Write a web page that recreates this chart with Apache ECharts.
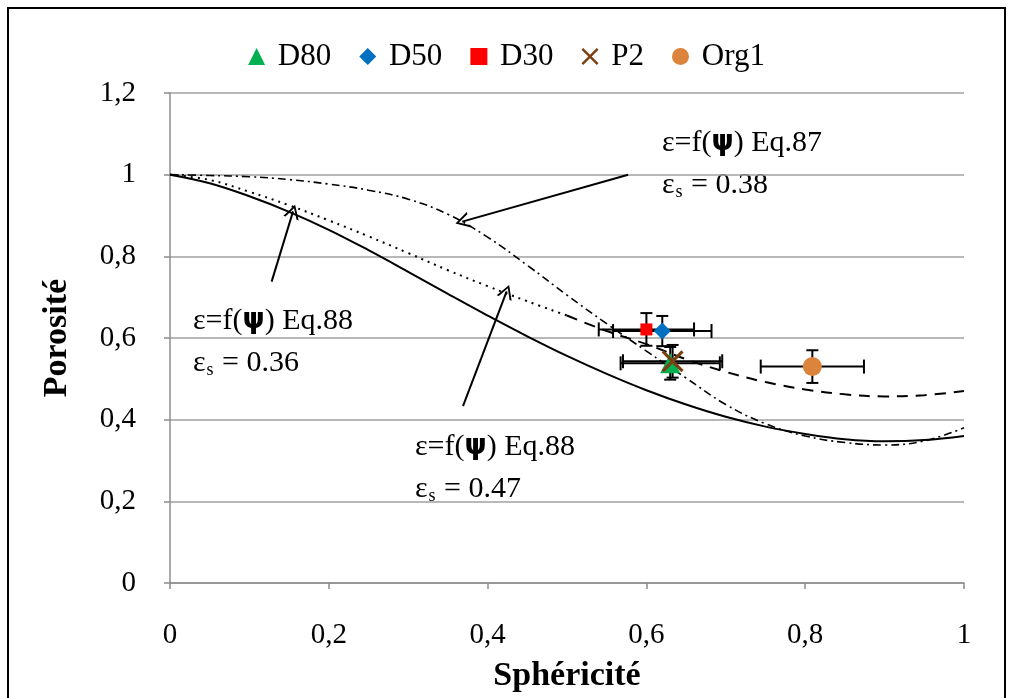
<!DOCTYPE html>
<html>
<head>
<meta charset="utf-8">
<script src="https://cdn.jsdelivr.net/npm/echarts@6/dist/echarts.min.js"></script>
<style>html,body{margin:0;padding:0;background:#fff}#c{width:1013px;height:698px}</style>
</head>
<body>
<div id="c"></div>
<script>
// ---- data ----
const psi = [0,0.05,0.1,0.15,0.2,0.25,0.3,0.35,0.4,0.45,0.5,0.55,0.6,0.65,0.7,0.75,0.8,0.85,0.9,0.95,1];
const eq88_036 = [1,0.979,0.947,0.909,0.865,0.815,0.762,0.708,0.655,0.604,0.556,0.512,0.472,0.437,0.407,0.383,0.365,0.352,0.347,0.35,0.36];
const eq88_047 = [1,0.987,0.958,0.925,0.888,0.849,0.808,0.766,0.727,0.69,0.655,0.617,0.585,0.548,0.517,0.492,0.474,0.462,0.457,0.46,0.47];
const eq87_038 = [1,0.998,0.995,0.988,0.977,0.962,0.94,0.903,0.847,0.778,0.705,0.635,0.568,0.502,0.437,0.39,0.36,0.344,0.338,0.348,0.38];

const pointNames = ['D80','D50','D30','P2','Org1'];
const pointX = [0.630,0.620,0.600,0.633,0.809];
const pointY = [0.538,0.617,0.621,0.543,0.530];
const errX = [0.0625,0.062,0.06,0.0625,0.065];
const errY = [0.04,0.037,0.04,0.04,0.04];

const xTicks = ['0','0,2','0,4','0,6','0,8','1'];
const yTicks = ['0','0,2','0,4','0,6','0,8','1','1,2'];

// arrows: [x0,y0,x1(tip),y1(tip)]
const arrows = [
  [0.577,1.0,0.368,0.885],
  [0.128,0.738,0.155,0.910],
  [0.369,0.433,0.424,0.714]
];
// ---- styles ----
const SERIF = 'Liberation Serif';
const colors = ['#00B050','#0070C0','#FF0000','#7B3F12','#DD843C'];
const XPATH = 'path://M0,1 L1,0 L5,4 L9,0 L10,1 L6,5 L10,9 L9,10 L5,6 L1,10 L0,9 L4,5 Z';
const symbols = ['triangle','diamond','rect',XPATH,'circle'];
const sizes = [20,17,12,22,19];
const VHEAD = 'path://M5,0 L10,10 L8.6,10 L5,2.6 L1.4,10 L0,10 Z';

const chart = echarts.init(document.getElementById('c'), null, {renderer:'canvas'});

function curve(arr){ return psi.map((x,i)=>[x,arr[i]]); }
const split = 10;

const series = [];
series.push({type:'line', name:'s036', data:curve(eq88_036), smooth:0.4, symbol:'none',
  lineStyle:{color:'#000',width:2,type:'solid'}, z:1,
  markLine:{silent:true, symbol:['none',VHEAD], symbolSize:[16,14],
    lineStyle:{color:'#000',width:2,type:'solid'}, label:{show:false},
    data: arrows.map(a=>[{coord:[a[0],a[1]]},{coord:[a[2],a[3]]}])}});
series.push({type:'line', name:'s047a', data:curve(eq88_047).slice(0,split+1), smooth:0.4, symbol:'none',
  lineStyle:{color:'#000',width:2,type:[2,5]}, z:1});
series.push({type:'line', name:'s047b', data:curve(eq88_047).slice(split), smooth:0.4, symbol:'none',
  lineStyle:{color:'#000',width:2,type:[11,8]}, z:1});
series.push({type:'line', name:'s038', data:curve(eq87_038), smooth:0.4, symbol:'none',
  lineStyle:{color:'#000',width:1.6,type:[8,4,2,4]}, z:1});

series.push({type:'custom', name:'err', z:2,
  data: pointNames.map((n,i)=>[pointX[i],pointY[i],errX[i],errY[i]]),
  encode:{x:0,y:1},
  renderItem(params, api){
    const x=api.value(0), y=api.value(1), ex=api.value(2), ey=api.value(3);
    const l=api.coord([x-ex,y]), r=api.coord([x+ex,y]), t=api.coord([x,y+ey]), b=api.coord([x,y-ey]);
    const c=7, st={stroke:'#000',lineWidth:2};
    return {type:'group', children:[
      {type:'line',shape:{x1:l[0],y1:l[1],x2:r[0],y2:r[1]},style:st},
      {type:'line',shape:{x1:t[0],y1:t[1],x2:b[0],y2:b[1]},style:st},
      {type:'line',shape:{x1:l[0],y1:l[1]-c,x2:l[0],y2:l[1]+c},style:st},
      {type:'line',shape:{x1:r[0],y1:r[1]-c,x2:r[0],y2:r[1]+c},style:st},
      {type:'line',shape:{x1:t[0]-6,y1:t[1],x2:t[0]+6,y2:t[1]},style:st},
      {type:'line',shape:{x1:b[0]-6,y1:b[1],x2:b[0]+6,y2:b[1]},style:st}
    ]};
  }});

pointNames.forEach((n,i)=>{
  series.push({type:'scatter', name:n, data:[[pointX[i],pointY[i]]], symbol:symbols[i], symbolSize:sizes[i],
    itemStyle:{color:colors[i], opacity:1}, z:3 + (i===3?1:0)});
});

function rich(sz){
  return {
    e:{fontFamily:SERIF,fontSize:sz,color:'#000'},
    p:{fontFamily:'DejaVu Sans',fontSize:sz-2,fontWeight:'bold',color:'#000'},
    s:{fontFamily:SERIF,fontSize:Math.round(sz*0.6),color:'#000',padding:[15,1,0,1]}
  };
}
function ann(x,y,eq,es){
  return [
    {type:'text', left:x, top:y, silent:true, style:{text:'{e|ε=f(}{p|ψ}{e|) '+eq+'}', rich:rich(30)}},
    {type:'text', left:x, top:y+42, silent:true, style:{text:'{e|ε}{s|s}{e| = '+es+'}', rich:rich(30)}}
  ];
}

const option = {
  animation:false,
  backgroundColor:'#fff',
  grid:{left:170, right:49, top:93, bottom:114, containLabel:false},
  legend:{data:pointNames, top:36, left:'center', itemGap:28, itemWidth:17, itemHeight:17,
    formatter:(n)=>' '+n,
    textStyle:{fontFamily:SERIF, fontSize:31, color:'#000'}},
  xAxis:{type:'value', min:0, max:1, interval:0.2,
    name:'Sphéricité', nameLocation:'middle', nameGap:76,
    nameTextStyle:{fontFamily:SERIF, fontWeight:'bold', fontSize:34, color:'#000'},
    axisLine:{show:true, lineStyle:{color:'#8c8c8c', width:1.5}},
    axisTick:{show:true, length:6, lineStyle:{color:'#8c8c8c', width:1.5}},
    axisLabel:{margin:38, fontFamily:SERIF, fontSize:29, color:'#000', formatter:(v)=>xTicks[Math.round(v/0.2)]},
    splitLine:{show:false}},
  yAxis:{type:'value', min:0, max:1.2, interval:0.2,
    name:'Porosité', nameLocation:'middle', nameGap:96,
    nameTextStyle:{fontFamily:SERIF, fontWeight:'bold', fontSize:34, color:'#000'},
    axisLine:{show:true, lineStyle:{color:'#8c8c8c', width:1.5}},
    axisTick:{show:true, length:6, lineStyle:{color:'#8c8c8c', width:1.5}},
    axisLabel:{margin:34, fontFamily:SERIF, fontSize:29, color:'#000', formatter:(v)=>yTicks[Math.round(v/0.2)]},
    splitLine:{show:true, lineStyle:{color:'#a0a0a0', width:1.5}}},
  graphic:[
    {type:'rect', silent:true, shape:{x:8,y:8,width:997,height:720}, style:{fill:'none', stroke:'#000', lineWidth:2}},
    ...ann(662,128,'Eq.87','0.38'),
    ...ann(193,306,'Eq.88','0.36'),
    ...ann(415,432,'Eq.88','0.47')
  ],
  series
};
chart.setOption(option);
</script>
</body>
</html>
